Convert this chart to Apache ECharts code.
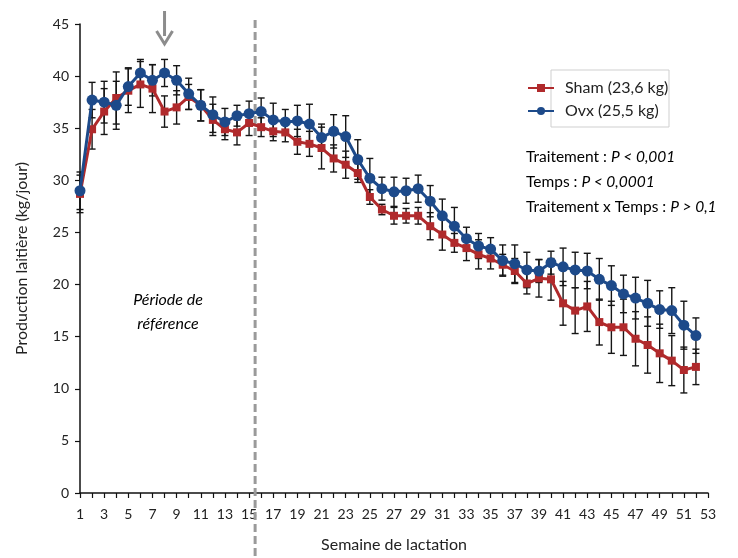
<!DOCTYPE html>
<html>
<head>
<meta charset="utf-8">
<script src="https://cdn.jsdelivr.net/npm/echarts@6/dist/echarts.min.js"></script>
<style>
  html, body { margin: 0; padding: 0; background: #fff; }
  #chart { width: 738px; height: 558px; }
</style>
</head>
<body>
<div id="chart"></div>
<script>
// Weeks of lactation
const weeks = [];
for (let w = 1; w <= 52; w++) weeks.push(w);

// Mean daily milk yield (kg/day)
const shamMean = [
  28.7, 34.9, 36.6, 37.9, 38.6, 39.2, 38.8, 36.6, 37.0, 38.0,
  37.2, 35.8, 34.9, 34.6, 35.5, 35.1, 34.7, 34.6, 33.7, 33.5,
  33.1, 32.1, 31.5, 30.7, 28.4, 27.2, 26.6, 26.6, 26.6, 25.6,
  24.8, 24.0, 23.5, 22.9, 22.5, 21.9, 21.3, 20.1, 20.6, 20.5,
  18.2, 17.5, 17.9, 16.4, 15.9, 15.9, 14.8, 14.2, 13.4, 12.7,
  11.8, 12.1
];
const ovxMean = [
  29.0, 37.7, 37.5, 37.2, 39.0, 40.3, 39.6, 40.3, 39.6, 38.3,
  37.2, 36.3, 35.6, 36.2, 36.4, 36.6, 35.8, 35.6, 35.7, 35.4,
  34.1, 34.7, 34.2, 32.0, 30.2, 29.2, 28.9, 29.0, 29.2, 28.0,
  26.6, 25.6, 24.4, 23.7, 23.4, 22.3, 22.0, 21.4, 21.3, 22.1,
  21.7, 21.4, 21.3, 20.5, 19.9, 19.1, 18.7, 18.2, 17.6, 17.5,
  16.1, 15.1
];

// Standard errors
const shamSem = [
  1.8, 1.9, 2.2, 2.5, 2.1, 2.2, 2.3, 1.5, 1.6, 1.2,
  1.5, 1.5, 1.0, 1.2, 1.2, 0.9, 0.9, 0.9, 1.2, 1.2,
  2.0, 1.3, 1.3, 0.9, 0.7, 0.5, 0.8, 0.7, 0.8, 1.3,
  1.5, 0.9, 1.2, 1.4, 1.0, 1.0, 1.2, 1.0, 1.8, 2.0,
  2.1, 2.2, 2.4, 2.2, 2.5, 2.7, 2.6, 2.7, 2.8, 2.4,
  2.2, 1.7
];
const ovxSem = [
  1.8, 1.7, 2.0, 2.3, 1.8, 1.3, 1.5, 1.3, 1.4, 1.5,
  1.5, 1.7, 1.3, 1.0, 1.2, 1.3, 1.6, 1.2, 1.5, 1.9,
  1.3, 1.6, 2.0, 1.9, 1.9, 1.1, 1.4, 1.2, 1.3, 1.5,
  1.6, 1.8, 1.1, 1.2, 1.1, 1.5, 1.8, 1.7, 1.1, 1.1,
  1.8, 1.7, 1.7, 2.0, 1.9, 1.8, 2.0, 2.2, 1.8, 2.2,
  2.3, 1.7
];

const seriesNames = ['Sham (23,6 kg)', 'Ovx (25,5 kg)'];
const referenceEnd = 15.5;   // end of the reference period
const arrowWeek = 8;         // treatment marker

const FONT = 'Lato, "Open Sans", sans-serif';
const RED = '#b02a2c';
const BLUE = '#1d4a8a';

function pairs(means) { return weeks.map((w, i) => [w, means[i]]); }
function errData(means, sems) { return weeks.map((w, i) => [w, means[i] - sems[i], means[i] + sems[i]]); }

function errorBarRender(params, api) {
  const x = api.value(0);
  const lo = api.coord([x, api.value(1)]);
  const hi = api.coord([x, api.value(2)]);
  const cap = 3.5;
  const style = { stroke: '#151515', lineWidth: 1.4 };
  return {
    type: 'group',
    children: [
      { type: 'line', shape: { x1: lo[0], y1: lo[1], x2: hi[0], y2: hi[1] }, style },
      { type: 'line', shape: { x1: lo[0] - cap, y1: lo[1], x2: lo[0] + cap, y2: lo[1] }, style },
      { type: 'line', shape: { x1: hi[0] - cap, y1: hi[1], x2: hi[0] + cap, y2: hi[1] }, style }
    ]
  };
}

const chart = echarts.init(document.getElementById('chart'), null, { renderer: 'canvas' });

const option = {
  animation: false,
  backgroundColor: '#fff',
  grid: { left: 80, right: 30, top: 24, bottom: 60 },
  legend: {
    data: seriesNames,
    orient: 'vertical',
    left: 522,
    top: 75,
    itemWidth: 26,
    itemHeight: 10,
    itemGap: 7,
    textStyle: { fontFamily: FONT, fontSize: 16, color: '#222', padding: [0, 0, 0, 6] }
  },
  xAxis: {
    type: 'value',
    min: 1,
    max: 53,
    interval: 1,
    name: 'Semaine de lactation',
    nameLocation: 'middle',
    nameGap: 44,
    nameTextStyle: { fontFamily: FONT, fontSize: 16, color: '#222' },
    axisLine: { lineStyle: { color: '#111', width: 1.5 } },
    axisTick: { show: true, length: 5, lineStyle: { color: '#111', width: 1.2 } },
    axisLabel: {
      fontFamily: FONT, fontSize: 14, color: '#222', margin: 14,
      formatter: v => (v % 2 === 1 ? String(v) : '')
    },
    splitLine: { show: false }
  },
  yAxis: {
    type: 'value',
    min: 0,
    max: 45,
    interval: 5,
    name: 'Production laitière (kg/jour)',
    nameLocation: 'middle',
    nameGap: 50,
    nameTextStyle: { fontFamily: FONT, fontSize: 16, color: '#222' },
    axisLine: { show: true, lineStyle: { color: '#111', width: 1.5 } },
    axisTick: { show: true, length: 5, lineStyle: { color: '#111', width: 1.2 } },
    axisLabel: { fontFamily: FONT, fontSize: 14, color: '#222', margin: 11 },
    splitLine: { show: false }
  },
  series: [
    {
      type: 'custom', name: 'sham-err', renderItem: errorBarRender,
      data: errData(shamMean, shamSem), encode: { x: 0, y: [1, 2] }, z: 2, silent: true
    },
    {
      type: 'custom', name: 'ovx-err', renderItem: errorBarRender,
      data: errData(ovxMean, ovxSem), encode: { x: 0, y: [1, 2] }, z: 2, silent: true
    },
    {
      name: seriesNames[0], type: 'line', data: pairs(shamMean),
      symbol: 'rect', symbolSize: 8,
      lineStyle: { color: RED, width: 3 },
      itemStyle: { color: RED },
      z: 3
    },
    {
      name: seriesNames[1], type: 'line', data: pairs(ovxMean),
      symbol: 'circle', symbolSize: 11,
      lineStyle: { color: BLUE, width: 3 },
      itemStyle: { color: BLUE },
      z: 4
    }
  ]
};

chart.setOption(option);

// Annotations placed from the axis scales
const xRef = chart.convertToPixel({ gridIndex: 0 }, [referenceEnd, 0])[0];
const xArrow = chart.convertToPixel({ gridIndex: 0 }, [arrowWeek, 0])[0];

chart.setOption({
  graphic: [
    {
      type: 'line', z: 1,
      shape: { x1: xRef, y1: 20, x2: xRef, y2: 558 },
      style: { stroke: '#9a9a9a', lineWidth: 3, lineDash: [8, 4] }
    },
    {
      type: 'line', z: 10,
      shape: { x1: xArrow, y1: 11, x2: xArrow, y2: 36 },
      style: { stroke: '#8c8c8c', lineWidth: 3 }
    },
    {
      type: 'polyline', z: 10,
      shape: { points: [[xArrow - 8, 31], [xArrow, 44], [xArrow + 8, 31]] },
      style: { stroke: '#8c8c8c', lineWidth: 3, fill: null }
    },
    {
      type: 'rect', z: 0,
      shape: { x: 551, y: 70, width: 118, height: 57 },
      style: { fill: '#fff', stroke: '#cfcfcf', lineWidth: 1 }
    },
    {
      type: 'text', z: 10, left: 526, top: 149,
      style: {
        text: '{n|Traitement : }{i|P < 0,001}\n{n|Temps : }{i|P < 0,0001}\n{n|Traitement x Temps : }{i|P > 0,1}',
        rich: {
          n: { fontFamily: FONT, fontSize: 15.5, color: '#222', lineHeight: 25 },
          i: { fontFamily: FONT, fontSize: 15.5, color: '#222', fontStyle: 'italic', lineHeight: 25 }
        }
      }
    },
    {
      type: 'text', z: 10, x: 168, y: 312,
      style: {
        text: 'Période de\nréférence', align: 'center', verticalAlign: 'middle',
        fontFamily: FONT, fontSize: 16, fontStyle: 'italic', color: '#222', lineHeight: 24
      }
    }
  ]
});
</script>
</body>
</html>
